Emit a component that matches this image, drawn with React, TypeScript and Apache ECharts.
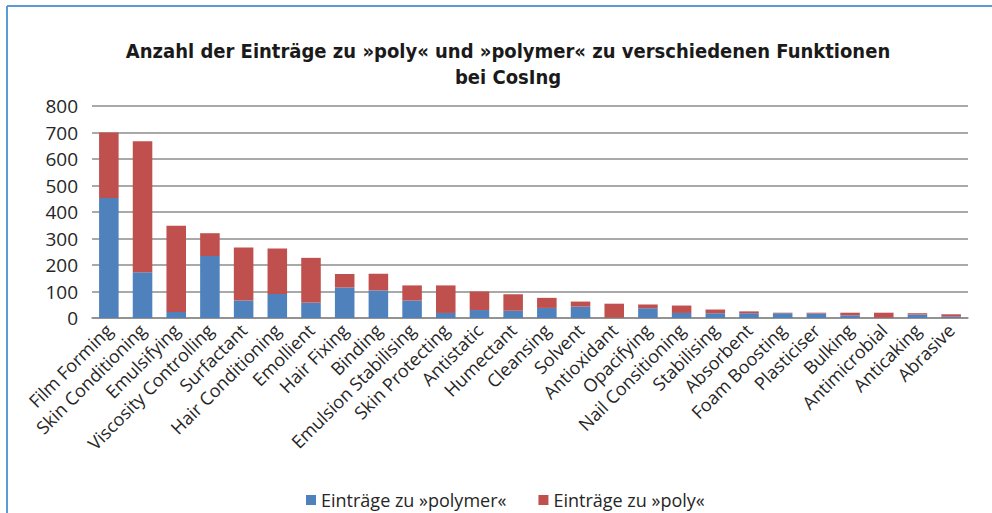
import React, { useEffect, useRef } from "react";
import * as echarts from "echarts";

const categories = [
  "Film Forming", "Skin Conditioning", "Emulsifying", "Viscosity Controlling", "Surfactant",
  "Hair Conditioning", "Emollient", "Hair Fixing", "Binding", "Emulsion Stabilising",
  "Skin Protecting", "Antistatic", "Humectant", "Cleansing", "Solvent", "Antioxidant",
  "Opacifying", "Nail Consitioning", "Stabilising", "Absorbent", "Foam Boosting",
  "Plasticiser", "Bulking", "Antimicrobial", "Anticaking", "Abrasive",
];

const polymerValues = [453, 173, 23, 234, 66, 91, 58, 115, 104, 66, 19, 30, 27, 38, 43, 1, 37, 19, 18, 18, 18, 17, 10, 1, 13, 5];
const totalValues = [700, 667, 348, 320, 266, 262, 227, 166, 167, 123, 123, 100, 90, 76, 62, 54, 51, 47, 32, 25, 20, 20, 20, 20, 18, 14];
const polyValues = totalValues.map((t, i) => t - polymerValues[i]);

const yTicks = { min: 0, max: 800, interval: 100 };

const seriesNames = ["Einträge zu »polymer«", "Einträge zu »poly«"];
const titleText = "Anzahl der Einträge zu »poly« und »polymer« zu verschiedenen Funktionen\nbei CosIng";

const labelFont = "'Open Sans', 'Noto Sans', sans-serif";

export default function App() {
  const ref = useRef<HTMLDivElement>(null);
  useEffect(() => {
    if (!ref.current) return;
    const chart = echarts.init(ref.current, undefined, { renderer: "svg" });
    chart.setOption({
      animation: false,
      backgroundColor: "#ffffff",
      title: {
        text: titleText,
        left: 503,
        textAlign: "center",
        top: 33,
        textStyle: {
          fontFamily: "'Liberation Sans Narrow', 'DejaVu Sans Condensed', sans-serif",
          fontWeight: "bold",
          fontSize: 20,
          lineHeight: 26,
          color: "#1a1a1a",
        },
      },
      graphic: [
        { type: "line", shape: { x1: 7, y1: 6, x2: 7, y2: 513 }, style: { stroke: "#5b9bd5", lineWidth: 2 } },
        { type: "line", shape: { x1: 7, y1: 6, x2: 992, y2: 6 }, style: { stroke: "#5b9bd5", lineWidth: 2 } },
      ],
      legend: {
        left: 301,
        top: 486,
        icon: "rect",
        itemWidth: 10,
        itemHeight: 10,
        itemGap: 32,
        textStyle: { fontFamily: labelFont, fontSize: 18, color: "#262626" },
        data: seriesNames,
      },
      grid: { left: 92, right: 24, top: 106, bottom: 195 },
      xAxis: {
        type: "category",
        data: categories,
        axisTick: { show: false },
        axisLine: { lineStyle: { color: "#8c8c8c", width: 1.5 } },
        axisLabel: {
          interval: 0,
          rotate: 45,
          margin: 9,
          fontFamily: labelFont,
          fontSize: 18,
          color: "#262626",
        },
      },
      yAxis: {
        type: "value",
        min: yTicks.min,
        max: yTicks.max,
        interval: yTicks.interval,
        axisLine: { show: false },
        axisTick: { show: false },
        splitLine: { lineStyle: { color: "#8c8c8c", width: 1.5 } },
        axisLabel: { fontFamily: labelFont, fontSize: 19, color: "#262626", margin: 14 },
      },
      series: [
        {
          name: seriesNames[0],
          type: "bar",
          stack: "total",
          data: polymerValues,
          barCategoryGap: "42%",
          itemStyle: { color: "#4f81bd" },
        },
        {
          name: seriesNames[1],
          type: "bar",
          stack: "total",
          data: polyValues,
          itemStyle: { color: "#c0504d" },
        },
      ],
    });
    return () => chart.dispose();
  }, []);
  return (
    <div
      ref={ref}
      style={{ position: "absolute", left: 0, top: 0, width: 992, height: 513 }}
    />
  );
}
